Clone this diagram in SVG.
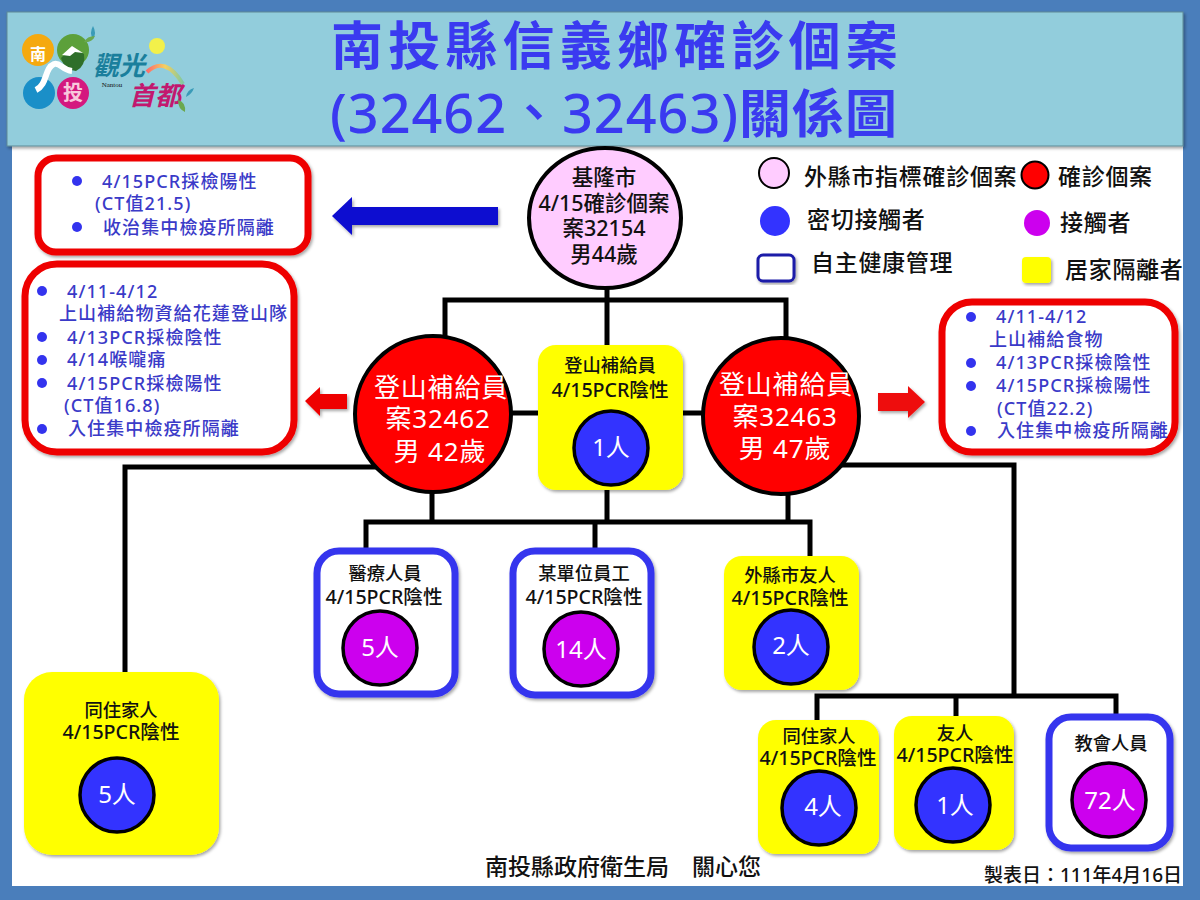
<svg xmlns="http://www.w3.org/2000/svg" width="1200" height="900" viewBox="0 0 1200 900">
<defs>
<filter id="sh" x="-10%" y="-10%" width="125%" height="125%"><feDropShadow dx="1.5" dy="2" stdDeviation="1.5" flood-color="#000" flood-opacity="0.35"/></filter>
<linearGradient id="rb" x1="0" y1="0" x2="1" y2="0"><stop offset="0" stop-color="#ff6a6a"/><stop offset="0.5" stop-color="#f4d060"/><stop offset="1" stop-color="#80c8a0"/></linearGradient>
</defs>
<style>
text{font-family:"Noto Sans","Noto Sans CJK TC",sans-serif;text-anchor:middle;fill:#111}
.title{font-weight:700;fill:#3a3af0}
.note{fill:#3a3ac8;font-size:18px;text-anchor:start;letter-spacing:1.1px;font-weight:500}
.lab{font-size:18.3px;font-weight:500}
.pcr{font-size:19.6px;font-weight:500}
.num{font-size:24px;fill:#fff}
.red{font-size:26px;fill:#fff;letter-spacing:.8px}
.pink{font-size:21.500px;fill:#111;font-weight:500}
.leg{font-size:23px;text-anchor:start;letter-spacing:.7px;font-weight:500}
.rb{fill:#fff;stroke:#ee0000;stroke-width:7;filter:url(#sh)}
.yb{fill:#ffff00;filter:url(#sh)}
.bb{fill:#fff;stroke:#3535ee;stroke-width:7;filter:url(#sh)}
.c{stroke:#000;stroke-width:3.500}
.blue{fill:#3333ff}.pur{fill:#cc00ee}
.dot{fill:#3333ee}
#connectors path{fill:none;stroke:#000;stroke-width:5}
</style>
<rect width="1200" height="900" fill="#4a7ebb"/>
<rect x="12" y="12" width="1171" height="874" fill="#fff"/>
<rect x="7" y="12" width="1176" height="134" fill="#92cddc" stroke="#5f8a96" stroke-width="1" filter="url(#sh)"/>
<g id="title"><text class="title" x="617" y="65" style="font-size:52px;letter-spacing:5.200px">南投縣信義鄉確診個案</text><text class="title" x="330" y="133" textLength="567" lengthAdjust="spacing" style="text-anchor:start;font-size:52px"><tspan style="font-weight:500;font-size:54px">(32462、32463)</tspan>關係圖</text></g>
<g id="logo">
<circle cx="38" cy="50" r="16" fill="#f5a90f"/><circle cx="73" cy="50" r="16" fill="#5ca03a"/><circle cx="39" cy="93" r="16" fill="#1a8fc8"/><circle cx="73" cy="93" r="16" fill="#d4187f"/>
<path d="M61 58L72 47L84 54Q86 66 76 71Q64 70 61 58Z" fill="#2f6f2a"/><path d="M62 55L72 46L83 53L75 52L70 56Z" fill="#fff"/>
<path d="M36 90C48 84 44 68 54 64C60 62 62 70 72 71" fill="none" stroke="#fff" stroke-width="6"/>
<text x="38" y="60" style="font-size:16px;font-weight:700;fill:#fff">南</text>
<text x="73" y="100" style="font-size:20px;font-weight:700;fill:#f8c8dc">投</text>
<text x="119" y="75" style="font-size:26px;font-weight:700;font-style:italic;fill:#1a7f9c">觀光</text>
<text x="155" y="105" style="font-size:26px;font-weight:700;font-style:italic;fill:#c2186f">首都</text>
<text x="112" y="87" style="font-size:7px;font-family:'Liberation Serif',serif">Nantou</text>
<path d="M147 72Q165 55 183 84" fill="none" stroke="url(#rb)" stroke-width="4"/>
<circle cx="157" cy="46" r="8" fill="#f2f04a"/>
<path d="M93 26q4 7 0 13q-4-6 0-13ZM194 88q-2 6-8 9q1-7 8-9Z" fill="#3a9bb8"/><path d="M178 100q8 2 7 12q-7-3-7-12ZM84 42q3-6 11-6q-3 7-11 6Z" fill="#6aa84f"/>
</g>
<g id="connectors">
<path d="M445 340V300H786V340M607 285V345M511 413H538M683 413H705"/>
<path d="M376 467H125V672M838 465H1014V696M817 720V696H1116V716M956 696V716"/>
<path d="M366 550V522H810V556M432 490V522M607 490V522M595 522V550M788 490V522"/>
</g>
<g id="n-note1"><rect class="rb" x="38" y="158" width="270" height="94" rx="18"/><circle class="dot" cx="77" cy="181" r="5"/><circle class="dot" cx="77" cy="227" r="5"/><text class="note"><tspan x="102" y="188">4/15PCR採檢陽性</tspan><tspan x="95" y="210">(CT值21.5)</tspan><tspan x="103" y="234">收治集中檢疫所隔離</tspan></text></g>
<path id="arrow-blue" d="M498 207H352V197L332 216L352 235V225H498Z" fill="#0a0ad0" filter="url(#sh)"/>
<g id="n-keelung"><ellipse class="c" cx="605" cy="218" rx="76" ry="70" fill="#ffccff" style="stroke-width:4"/><text class="pink"><tspan x="604" y="185">基隆市</tspan><tspan x="604" y="211">4/15確診個案</tspan><tspan x="604" y="236">案32154</tspan><tspan x="604" y="262">男44歲</tspan></text></g>
<g id="legend">
<circle class="c" cx="774" cy="173" r="15" fill="#ffccff" style="stroke-width:2"/><text class="leg" x="804" y="185">外縣市指標確診個案</text>
<circle class="c" cx="1035" cy="175" r="13.500" fill="#f00" style="stroke-width:2"/><text class="leg" x="1058" y="185">確診個案</text>
<circle class="blue" cx="775" cy="221" r="15"/><text class="leg" x="807" y="228">密切接觸者</text>
<circle class="pur" cx="1037" cy="223" r="13"/><text class="leg" x="1060" y="231">接觸者</text>
<rect x="758" y="255" width="36" height="26" rx="5" fill="#fff" stroke="#1a1aa8" stroke-width="3" filter="url(#sh)"/><text class="leg" x="811" y="271">自主健康管理</text>
<rect class="yb" x="1022" y="257" width="29" height="26" rx="4"/><text class="leg" x="1065" y="278">居家隔離者</text>
</g>
<g id="n-note2"><rect class="rb" x="25" y="264" width="269" height="188" rx="32"/>
<g><circle class="dot" cx="42" cy="291" r="5"/><circle class="dot" cx="42" cy="337" r="5"/><circle class="dot" cx="42" cy="360" r="5"/><circle class="dot" cx="42" cy="383" r="5"/><circle class="dot" cx="42" cy="429" r="5"/></g>
<text class="note"><tspan x="67" y="298">4/11-4/12</tspan><tspan x="59" y="320">上山補給物資給花蓮登山隊</tspan><tspan x="67" y="344">4/13PCR採檢陰性</tspan><tspan x="67" y="366">4/14喉嚨痛</tspan><tspan x="67" y="390">4/15PCR採檢陽性</tspan><tspan x="64" y="412">(CT值16.8)</tspan><tspan x="68" y="435">入住集中檢疫所隔離</tspan></text></g>
<path id="arrow-l" d="M347 394H320V387L305 401L320 416V409H347Z" fill="#ee0000" filter="url(#sh)"/>
<path id="arrow-r" d="M878 393H908V386L925 402L908 418V411H878Z" fill="#ee1111" filter="url(#sh)"/>
<g id="n-note3"><rect class="rb" x="942" y="302" width="233" height="150" rx="30"/>
<g><circle class="dot" cx="971" cy="317" r="5"/><circle class="dot" cx="971" cy="363" r="5"/><circle class="dot" cx="971" cy="386" r="5"/><circle class="dot" cx="971" cy="431" r="5"/></g>
<text class="note"><tspan x="996" y="323">4/11-4/12</tspan><tspan x="989" y="346">上山補給食物</tspan><tspan x="996" y="369">4/13PCR採檢陰性</tspan><tspan x="996" y="392">4/15PCR採檢陽性</tspan><tspan x="997" y="415">(CT值22.2)</tspan><tspan x="997" y="437">入住集中檢疫所隔離</tspan></text></g>
<g id="n-32462"><circle class="c" cx="433" cy="414" r="78" fill="#f00" style="stroke-width:4"/><text class="red"><tspan x="441" y="397">登山補給員</tspan><tspan x="438" y="428">案32462</tspan><tspan x="440" y="461">男 42歲</tspan></text></g>
<g id="n-32463"><circle class="c" cx="781" cy="416" r="78" fill="#f00" style="stroke-width:4"/><text class="red"><tspan x="786" y="394">登山補給員</tspan><tspan x="785" y="426">案32463</tspan><tspan x="785" y="458">男 47歲</tspan></text></g>
<g id="n-center"><rect class="yb" x="538" y="345" width="145" height="145" rx="18"/><text><tspan class="lab" x="610" y="372">登山補給員</tspan><tspan class="pcr" x="610" y="397">4/15PCR陰性</tspan></text><circle class="c blue" cx="611" cy="448" r="37"/><text class="num" x="611" y="456">1人</text></g>
<g id="n-medical"><rect class="bb" x="317" y="551" width="138" height="143" rx="22"/><text><tspan class="lab" x="385" y="580">醫療人員</tspan><tspan class="pcr" x="384" y="604">4/15PCR陰性</tspan></text><circle class="c pur" cx="380" cy="648" r="37"/><text class="num" x="380" y="656">5人</text></g>
<g id="n-staff"><rect class="bb" x="513" y="551" width="138" height="144" rx="22"/><text><tspan class="lab" x="584" y="580">某單位員工</tspan><tspan class="pcr" x="584" y="604">4/15PCR陰性</tspan></text><circle class="c pur" cx="581" cy="649" r="37"/><text class="num" x="581" y="658">14人</text></g>
<g id="n-friends"><rect class="yb" x="724" y="556" width="135" height="134" rx="18"/><text><tspan class="lab" x="790" y="582">外縣市友人</tspan><tspan class="pcr" x="790" y="605">4/15PCR陰性</tspan></text><circle class="c blue" cx="791" cy="647" r="37"/><text class="num" x="791" y="654">2人</text></g>
<g id="n-family1"><rect class="yb" x="24" y="672" width="195" height="183" rx="28"/><text><tspan class="lab" x="121" y="717">同住家人</tspan><tspan class="pcr" x="121" y="739">4/15PCR陰性</tspan></text><circle class="c blue" cx="117" cy="795" r="37"/><text class="num" x="117" y="803">5人</text></g>
<g id="n-family2"><rect class="yb" x="758" y="720" width="121" height="134" rx="18"/><text><tspan class="lab" x="819" y="743">同住家人</tspan><tspan class="pcr" x="818" y="765">4/15PCR陰性</tspan></text><circle class="c blue" cx="819" cy="808" r="37"/><text class="num" x="823" y="815">4人</text></g>
<g id="n-friend"><rect class="yb" x="894" y="716" width="120" height="134" rx="18"/><text><tspan class="lab" x="955" y="740">友人</tspan><tspan class="pcr" x="955" y="762">4/15PCR陰性</tspan></text><circle class="c blue" cx="953" cy="805" r="37"/><text class="num" x="955" y="814">1人</text></g>
<g id="n-church"><rect class="bb" x="1049" y="717" width="121" height="131" rx="22"/><text class="lab" x="1111" y="750">教會人員</text><circle class="c pur" cx="1109" cy="800" r="37"/><text class="num" x="1110" y="809">72人</text></g>
<g id="footer"><text x="623" y="875" style="font-size:23px;font-weight:500">南投縣政府衛生局　關心您</text><text x="1083" y="882" style="font-size:19px;font-weight:500">製表日：111年4月16日</text></g>
</svg>
